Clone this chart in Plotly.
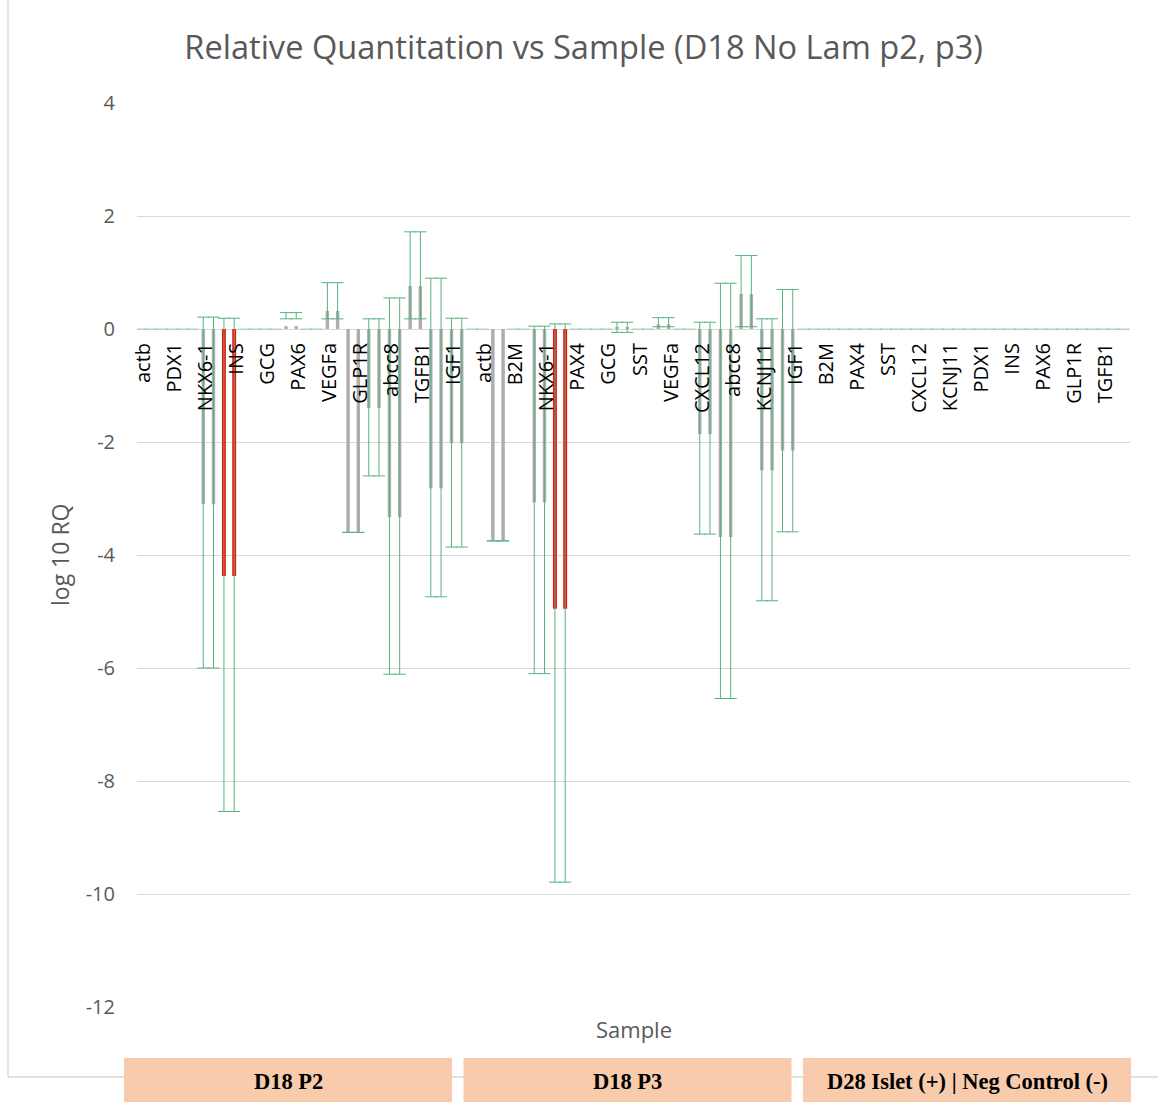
import plotly.graph_objects as go

# Sample groups and the gene targets labelled along the category axis
groups = ["D18 P2", "D18 P3", "D28 Islet (+) | Neg Control (-)"]
genes_p2 = ["actb", "PDX1", "NKX6-1", "INS", "GCG", "PAX6", "VEGFa", "GLP1R", "abcc8", "TGFB1", "IGF1"]
genes_p3 = ["actb", "B2M", "NKX6-1", "PAX4", "GCG", "SST", "VEGFa", "CXCL12", "abcc8", "KCNJ11", "IGF1"]
genes_d28 = ["B2M", "PAX4", "SST", "CXCL12", "KCNJ11", "PDX1", "INS", "PAX6", "GLP1R", "TGFB1"]

# log10 RQ per well (16 wells per sample group) with log10 RQ max / min limits
p2_log_rq = [0, 0, 0, -3.10, -4.37, 0, 0, 0.05, 0, 0.32, -3.60, -1.40, -3.33, 0.76, -2.82, -2.02]
p2_log_max = [0, 0, 0, 0.21, 0.19, 0, 0, 0.29, 0, 0.82, -3.60, 0.18, 0.55, 1.72, 0.90, 0.19]
p2_log_min = [0, 0, 0, -6.00, -8.54, 0, 0, 0.18, 0, 0.18, -3.60, -2.60, -6.11, 0.18, -4.74, -3.86]

p3_log_rq = [0, -3.75, 0, -3.07, -4.95, 0, 0, 0.02, 0, 0.08, 0, -1.86, -3.68, 0.62, -2.50, -2.15]
p3_log_max = [0, -3.75, 0, 0.05, 0.09, 0, 0, 0.12, 0, 0.20, 0, 0.12, 0.81, 1.30, 0.18, 0.70]
p3_log_min = [0, -3.75, 0, -6.10, -9.79, 0, 0, -0.06, 0, 0.04, 0, -3.63, -6.54, 0.04, -4.81, -3.59]

d28_log_rq = [0] * 16
d28_log_max = [0] * 16
d28_log_min = [0] * 16

# hormone targets (INS, PAX4) shown in red: (group index, well index)
hormone_wells = [(0, 4), (1, 4)]

y_ticks = list(range(-12, 5, 2))

log_rq = p2_log_rq + p3_log_rq + d28_log_rq
log_max = p2_log_max + p3_log_max + d28_log_max
log_min = p2_log_min + p3_log_min + d28_log_min
gene_labels = genes_p2 + genes_p3 + genes_d28

n_wells = len(log_rq)
wells_per_group = n_wells // len(groups)
well_x = list(range(n_wells))

GRAY = "#ADADAD"
RED = "#F2120A"
GREEN = "rgb(84,180,124)"
GREEN_PALE = "rgba(84,180,124,0.28)"
hot = {g * wells_per_group + w for g, w in hormone_wells}

# wells with no amplification sit on the baseline; their caps are drawn faintly
blank = [v == 0 and hi == 0 and lo == 0 for v, hi, lo in zip(log_rq, log_max, log_min)]

fig = go.Figure()


def add_wells(idx, centre, err_color):
    xs = [well_x[i] for i in idx]
    ys = [log_rq[i] for i in idx]
    plus = [log_max[i] - log_rq[i] for i in idx]
    minus = [log_rq[i] - log_min[i] for i in idx]
    cols = [RED if i in hot else GRAY for i in idx]
    widths = [0.19 if i in hot else 0.165 for i in idx]
    offs = [centre - w / 2 for w in widths]
    fig.add_trace(go.Bar(
        x=xs, y=ys, offset=offs, width=widths,
        marker=dict(color=cols, line=dict(width=0)),
        error_y=dict(type="data", symmetric=False, array=plus, arrayminus=minus,
                     color=err_color, thickness=1, width=6),
        showlegend=False, hoverinfo="skip",
    ))


# two replicate columns per well
for centre in (-0.2975, 0.1975):
    add_wells([i for i in well_x if blank[i]], centre, GREEN_PALE)
    add_wells([i for i in well_x if not blank[i]], centre, GREEN)

# carrier trace for the gene label axis
fig.add_trace(go.Scatter(x=list(range(len(gene_labels))), y=[None] * len(gene_labels),
                         xaxis="x2", yaxis="y", mode="markers", showlegend=False, hoverinfo="skip"))

L, T, W, H = 137, 103, 993, 904
FIG_W, FIG_H = 1158, 1102


def px_x(p):
    return (p - L) / W


def px_y(p):
    return (T + H - p) / H


label_font = "Open Sans, Arial, sans-serif"

fig.update_layout(
    width=FIG_W, height=FIG_H,
    margin=dict(l=L, r=FIG_W - L - W, t=T, b=FIG_H - T - H),
    paper_bgcolor="white", plot_bgcolor="white",
    barmode="overlay",
    title=dict(text="Relative Quantitation vs Sample (D18 No Lam p2, p3)",
               font=dict(family=label_font, size=32.6, color="#595959"),
               x=0.504, xref="container", y=1 - 48 / FIG_H, yref="container",
               xanchor="center", yanchor="middle"),
    xaxis=dict(range=[-0.5, n_wells - 0.5], showgrid=False, zeroline=False,
               showline=False, showticklabels=False, ticks=""),
    xaxis2=dict(overlaying="x", anchor="free", position=12 / 16, side="bottom",
                range=[-0.21, len(gene_labels) - 0.21], tickmode="array",
                tickvals=list(range(len(gene_labels))), ticktext=gene_labels,
                tickangle=-90, tickfont=dict(family=label_font, size=20, color="#000000"),
                ticklabelstandoff=9,
                showgrid=False, zeroline=False, showline=False, ticks=""),
    yaxis=dict(range=[-12, 4], tickmode="array", tickvals=y_ticks,
               ticktext=[str(v) for v in y_ticks],
               showgrid=True, gridcolor="#D9D9D9", gridwidth=1.3, zeroline=False,
               showline=False, ticks="", ticklabelstandoff=21,
               tickfont=dict(family=label_font, size=20, color="#595959")),
    font=dict(family=label_font),
)

# axis titles
fig.add_annotation(text="Sample", xref="paper", yref="paper", x=0.5, y=px_y(1029),
                   showarrow=False, xanchor="center", yanchor="middle",
                   font=dict(family=label_font, size=22, color="#595959"))
fig.add_annotation(text="log 10 RQ", xref="paper", yref="paper", x=px_x(60), y=0.5,
                   showarrow=False, textangle=-90, xanchor="center", yanchor="middle",
                   font=dict(family=label_font, size=23, color="#595959"))

# chart frame (left and bottom edges)
frame = dict(color="#D9D9D9", width=1.3)
fig.add_shape(type="line", xref="paper", yref="paper", x0=px_x(8), x1=px_x(8),
              y0=px_y(-5), y1=px_y(1077), line=frame, layer="below")
fig.add_shape(type="line", xref="paper", yref="paper", x0=px_x(8), x1=px_x(FIG_W + 5),
              y0=px_y(1077), y1=px_y(1077), line=frame, layer="below")

# sample group header cells
cell_left, cell_w, cell_gap = 124, 328, 11.5
for i, g in enumerate(groups):
    x0 = cell_left + i * (cell_w + cell_gap)
    fig.add_shape(type="rect", xref="paper", yref="paper",
                  x0=px_x(x0), x1=px_x(x0 + cell_w), y0=px_y(1058), y1=px_y(FIG_H + 5),
                  fillcolor="#F8CBAD", line=dict(width=0), layer="above")
    fig.add_annotation(text="<b>%s</b>" % g, xref="paper", yref="paper",
                       x=px_x(x0 + cell_w / 2), y=px_y(1081), showarrow=False,
                       xanchor="center", yanchor="middle",
                       font=dict(family="Liberation Serif, serif", size=22.5, color="#000000"))

fig.write_html("out.html")
